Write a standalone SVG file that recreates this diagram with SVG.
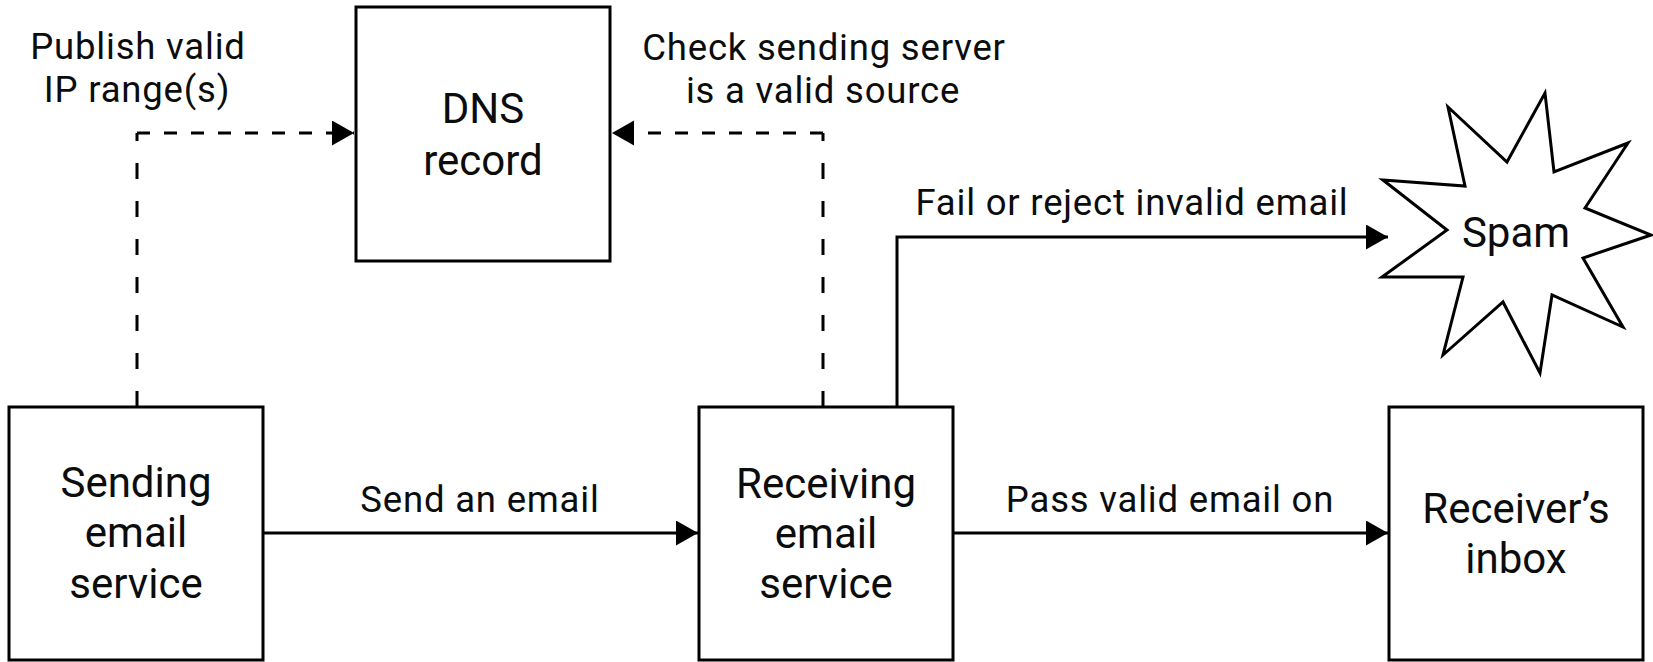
<svg xmlns="http://www.w3.org/2000/svg" width="1653" height="662" viewBox="0 0 1653 662">
<style>
.box{fill:#fff;stroke:#000;stroke-width:3}
.node{font-family:Roboto,"Noto Sans",sans-serif;font-size:42px;fill:#0b0c0c;text-anchor:middle}
.lbl{font-family:Roboto,"Noto Sans",sans-serif;font-size:36.5px;letter-spacing:0.8px;fill:#0b0c0c;text-anchor:middle}
.ln{fill:none;stroke:#000;stroke-width:3}
.dh{stroke-dasharray:13 14}
.dv{stroke-dasharray:16 22}
</style>
<defs>
<marker id="ah" markerUnits="userSpaceOnUse" markerWidth="24" markerHeight="26" refX="22" refY="12.5" orient="auto" viewBox="0 0 24 26">
<path d="M0,0 L22,12.5 L0,25 z" fill="#000"/>
</marker>
</defs>
<rect width="1653" height="662" fill="#fff"/>
<g id="connectors">
<path class="ln dv" d="M137,407 V133"/>
<path class="ln dh" d="M137,133 H354" marker-end="url(#ah)"/>
<path class="ln dv" d="M823,407 V133"/>
<path class="ln dh" d="M823,133 H612" marker-end="url(#ah)"/>
<path class="ln" d="M263,533 H698" marker-end="url(#ah)"/>
<path class="ln" d="M953,533 H1388" marker-end="url(#ah)"/>
<path class="ln" d="M897,407 V237 H1388" marker-end="url(#ah)"/>
<text class="lbl" x="138" y="59">Publish valid</text>
<text class="lbl" x="137" y="102">IP range(s)</text>
<text class="lbl" x="824" y="60">Check sending server</text>
<text class="lbl" x="823" y="103">is a valid source</text>
<text class="lbl" x="480" y="512">Send an email</text>
<text class="lbl" x="1170" y="512">Pass valid email on</text>
<text class="lbl" x="1132" y="215">Fail or reject invalid email</text>
</g>
<g id="dns">
<rect class="box" x="356" y="7" width="254" height="254"/>
<text class="node" x="483" y="123">DNS</text>
<text class="node" x="483" y="175">record</text>
</g>
<g id="sending">
<rect class="box" x="9" y="407" width="254" height="253"/>
<text class="node" x="136" y="497">Sending</text>
<text class="node" x="136" y="547">email</text>
<text class="node" x="136" y="598">service</text>
</g>
<g id="receiving">
<rect class="box" x="699" y="407" width="254" height="253"/>
<text class="node" x="826" y="498">Receiving</text>
<text class="node" x="826" y="548">email</text>
<text class="node" x="826" y="598">service</text>
</g>
<g id="inbox">
<rect class="box" x="1389" y="407" width="254" height="253"/>
<text class="node" x="1516" y="523">Receiver’s</text>
<text class="node" x="1516" y="573">inbox</text>
</g>
<g id="spam">
<polygon class="box" points="1383,180 1465,186 1448,107 1507,162 1545,93 1554,172 1628,143 1585,208 1651,235 1583,258 1623,327 1552,295 1540,373 1503,302 1443,355 1463,277 1382,277 1447,230"/>
<text class="node" x="1516" y="247">Spam</text>
</g>
</svg>
